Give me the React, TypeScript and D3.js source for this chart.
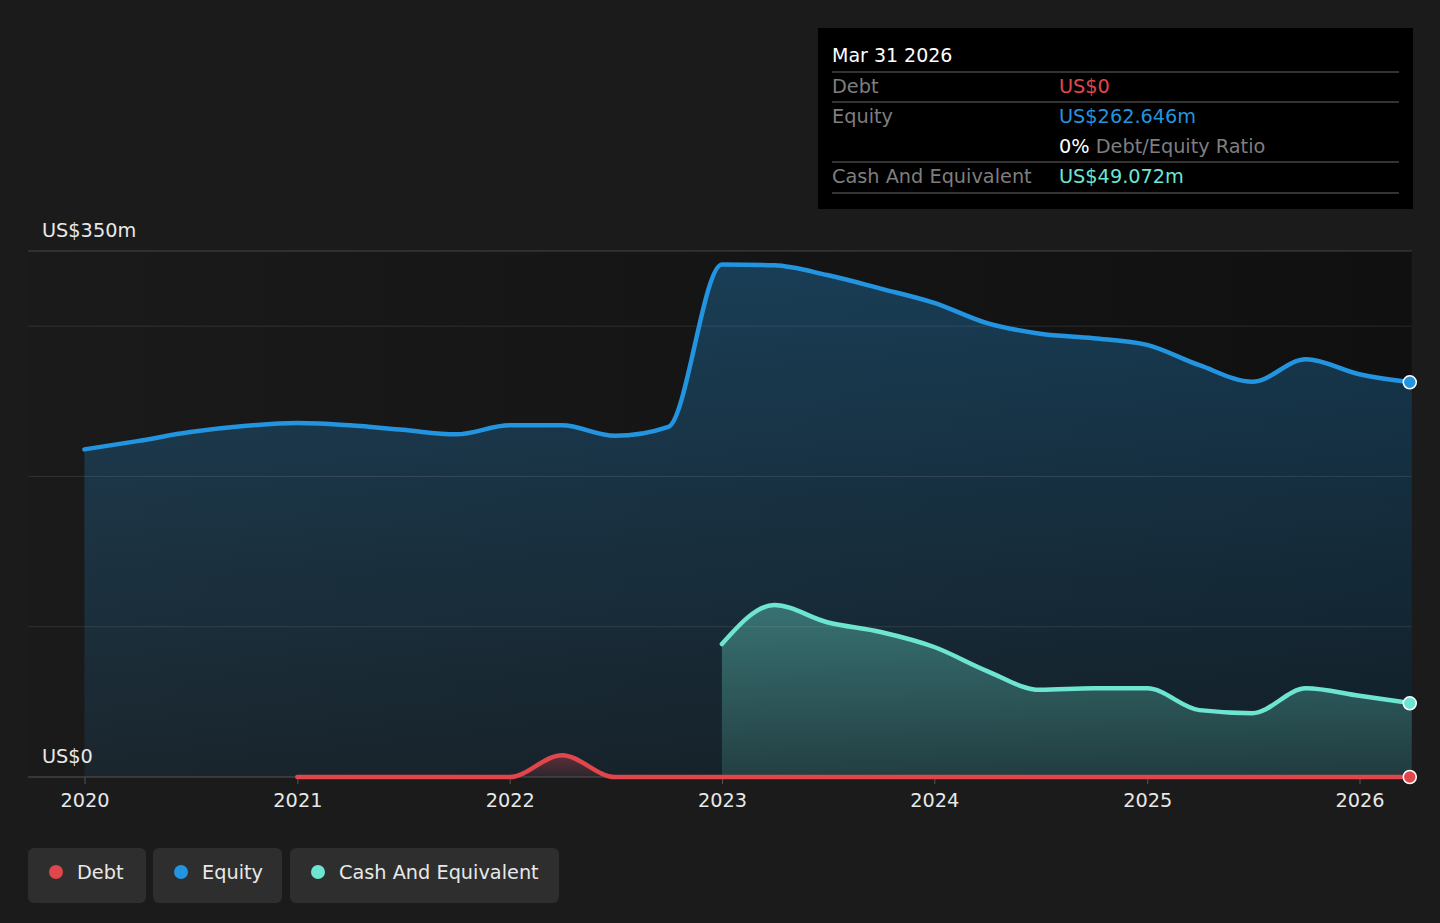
import { useEffect, useRef } from 'react';
import * as d3 from 'd3';

const quarterDates = [
  '2019-12-31', '2020-03-31', '2020-06-30', '2020-09-30', '2020-12-31',
  '2021-03-31', '2021-06-30', '2021-09-30', '2021-12-31', '2022-03-31',
  '2022-06-30', '2022-09-30', '2022-12-31', '2023-03-31', '2023-06-30',
  '2023-09-30', '2023-12-31', '2024-03-31', '2024-06-30', '2024-09-30',
  '2024-12-31', '2025-03-31', '2025-06-30', '2025-09-30', '2025-12-31',
  '2026-03-31',
];

// values in US$m
const equityValues = [
  218, 223.5, 229.5, 233.5, 235.5, 234, 231, 228, 234, 234, 227, 233, 341,
  340.5, 334, 325, 315.5, 302, 295, 292, 287.5, 274, 263, 278, 268, 262.646,
];
// debt starts 2020-12-31
const debtValues = [
  0, 0, 0, 0, 0, 14.5, 0, 0, 0, 0, 0, 0, 0, 0, 0, 0, 0, 0, 0, 0, 0, 0,
];
// cash starts 2022-12-31
const cashValues = [
  88.5, 114.5, 103, 96.5, 86.5, 70.5, 58, 59, 59, 44.5, 42.5, 59, 54, 49.072,
];

const yearTicks = [2020, 2021, 2022, 2023, 2024, 2025, 2026];
const gridValues = [100, 200, 300, 350];

const seriesColors = { debt: '#e0464c', equity: '#2394df', cash: '#6ee5d0' };
const font = '"DejaVu Sans", Verdana, sans-serif';
const fs = 19.3;

type Pt = { date: Date; value: number };

const App = () => {
  const svgRef = useRef(null);

  useEffect(() => {
    document.body.style.margin = '0';
    document.body.style.background = '#1b1b1b';
    if (!svgRef.current) return;

    const width = 1440;
    const height = 923;
    const svg = d3.select(svgRef.current).attr('width', width).attr('height', height);
    svg.selectAll('*').remove();

    const parse = d3.utcParse('%Y-%m-%d');
    const dates = quarterDates.map((d) => parse(d)!);

    const x = d3
      .scaleUtc()
      .domain([new Date(Date.UTC(2020, 0, 1)), new Date(Date.UTC(2026, 0, 1))])
      .range([85, 1360]);
    const y = d3.scaleLinear().domain([0, 350]).range([777, 251]);

    const equity: Pt[] = equityValues.map((v, i) => ({ date: dates[i], value: v }));
    const debt: Pt[] = debtValues.map((v, i) => ({ date: dates[i + 4], value: v }));
    const cash: Pt[] = cashValues.map((v, i) => ({ date: dates[i + 12], value: v }));

    const left = 28;
    const right = x(dates[dates.length - 1]);

    const defs = svg.append('defs');
    const bg = defs.append('linearGradient').attr('id', 'plotbg').attr('x1', 0).attr('x2', 1).attr('y1', 0).attr('y2', 0);
    bg.append('stop').attr('offset', 0).attr('stop-color', '#1a1a1a');
    bg.append('stop').attr('offset', 1).attr('stop-color', '#101010');

    const makeFill = (id: string, color: string, top: number, bottom: number) => {
      const g = defs.append('linearGradient').attr('id', id).attr('x1', 0).attr('x2', 0).attr('y1', 0).attr('y2', 1);
      g.append('stop').attr('offset', 0).attr('stop-color', color).attr('stop-opacity', top);
      g.append('stop').attr('offset', 1).attr('stop-color', color).attr('stop-opacity', bottom);
    };
    makeFill('eqfill', seriesColors.equity, 0.32, 0.1);
    makeFill('cashfill', seriesColors.cash, 0.38, 0.15);
    makeFill('debtfill', seriesColors.debt, 0.35, 0.1);

    svg.append('rect').attr('width', width).attr('height', height).attr('fill', '#1b1b1b');
    svg
      .append('rect')
      .attr('x', left)
      .attr('y', y(350))
      .attr('width', right - left)
      .attr('height', y(0) - y(350))
      .attr('fill', 'url(#plotbg)');

    const area = d3
      .area<Pt>()
      .x((d) => x(d.date))
      .y0(y(0))
      .y1((d) => y(d.value))
      .curve(d3.curveMonotoneX);
    const line = d3
      .line<Pt>()
      .x((d) => x(d.date))
      .y((d) => y(d.value))
      .curve(d3.curveMonotoneX);

    svg.append('path').datum(equity).attr('d', area).attr('fill', 'url(#eqfill)');
    svg.append('path').datum(cash).attr('d', area).attr('fill', 'url(#cashfill)');
    svg.append('path').datum(debt).attr('d', area).attr('fill', 'url(#debtfill)');

    // grid
    svg
      .append('g')
      .selectAll('line')
      .data(gridValues)
      .join('line')
      .attr('x1', left)
      .attr('x2', right)
      .attr('y1', (d) => y(d))
      .attr('y2', (d) => y(d))
      .attr('stroke', '#ffffff')
      .attr('stroke-opacity', (d) => (d === 350 ? 0.2 : 0.1));

    // x axis
    svg.append('line').attr('x1', left).attr('x2', right).attr('y1', y(0)).attr('y2', y(0)).attr('stroke', '#555');
    const xt = svg.append('g');
    xt.selectAll('line')
      .data(yearTicks)
      .join('line')
      .attr('x1', (d) => x(new Date(Date.UTC(d, 0, 1))))
      .attr('x2', (d) => x(new Date(Date.UTC(d, 0, 1))))
      .attr('y1', y(0))
      .attr('y2', y(0) + 7)
      .attr('stroke', '#555');
    xt.selectAll('text')
      .data(yearTicks)
      .join('text')
      .attr('x', (d) => x(new Date(Date.UTC(d, 0, 1))))
      .attr('y', 807)
      .attr('text-anchor', 'middle')
      .attr('fill', '#e8e8e8')
      .attr('font-family', font)
      .attr('font-size', fs)
      .text((d) => d);

    // y labels
    svg.append('text').attr('x', 42).attr('y', 237).attr('fill', '#e8e8e8').attr('font-family', font).attr('font-size', fs).text('US$350m');
    svg.append('text').attr('x', 42).attr('y', 763).attr('fill', '#e8e8e8').attr('font-family', font).attr('font-size', fs).text('US$0');

    // lines
    const drawLine = (data: Pt[], color: string) =>
      svg
        .append('path')
        .datum(data)
        .attr('d', line)
        .attr('fill', 'none')
        .attr('stroke', color)
        .attr('stroke-width', 4.5)
        .attr('stroke-linecap', 'round');
    drawLine(equity, seriesColors.equity);
    drawLine(cash, seriesColors.cash);
    drawLine(debt, seriesColors.debt);

    // end markers
    [
      { d: equity, c: seriesColors.equity },
      { d: cash, c: seriesColors.cash },
      { d: debt, c: seriesColors.debt },
    ].forEach(({ d, c }) => {
      const last = d[d.length - 1];
      svg
        .append('circle')
        .attr('cx', x(last.date) - 2)
        .attr('cy', y(last.value))
        .attr('r', 6.5)
        .attr('fill', c)
        .attr('stroke', '#ffffff')
        .attr('stroke-width', 1.5);
    });

    // tooltip
    const tip = svg.append('g');
    tip.append('rect').attr('x', 818).attr('y', 28).attr('width', 595).attr('height', 181).attr('fill', '#000');
    tip.append('text').attr('x', 832).attr('y', 62).attr('fill', '#ffffff').attr('font-family', font).attr('font-size', 19).text('Mar 31 2026');
    [72, 102, 162, 193].forEach((ly) =>
      tip.append('line').attr('x1', 832).attr('x2', 1399).attr('y1', ly).attr('y2', ly).attr('stroke', '#444').attr('stroke-width', 1.5)
    );
    const rows = [
      { label: 'Debt', value: 'US$0', color: seriesColors.debt, yy: 93 },
      { label: 'Equity', value: 'US$262.646m', color: seriesColors.equity, yy: 123 },
      { label: 'Cash And Equivalent', value: 'US$49.072m', color: seriesColors.cash, yy: 183 },
    ];
    rows.forEach((r) => {
      tip.append('text').attr('x', 832).attr('y', r.yy).attr('fill', '#7e7e7e').attr('font-family', font).attr('font-size', fs).text(r.label);
      tip.append('text').attr('x', 1059).attr('y', r.yy).attr('fill', r.color).attr('font-family', font).attr('font-size', fs).text(r.value);
    });
    const ratio = tip.append('text').attr('x', 1059).attr('y', 153).attr('font-family', font).attr('font-size', fs);
    ratio.append('tspan').attr('fill', '#ffffff').text('0%');
    ratio.append('tspan').attr('fill', '#7e7e7e').text(' Debt/Equity Ratio');

    // legend
    const legendItems = [
      { label: 'Debt', color: seriesColors.debt, x0: 28, w: 118 },
      { label: 'Equity', color: seriesColors.equity, x0: 153, w: 129 },
      { label: 'Cash And Equivalent', color: seriesColors.cash, x0: 290, w: 269 },
    ];
    const lg = svg.append('g');
    legendItems.forEach((it) => {
      lg.append('rect').attr('x', it.x0).attr('y', 848).attr('width', it.w).attr('height', 55).attr('rx', 6).attr('fill', '#2e2e2e');
      lg.append('circle').attr('cx', it.x0 + 28).attr('cy', 872).attr('r', 7).attr('fill', it.color);
      lg.append('text').attr('x', it.x0 + 49).attr('y', 879).attr('fill', '#e8e8e8').attr('font-family', font).attr('font-size', fs).text(it.label);
    });
  }, []);

  return <svg ref={svgRef} style={{ display: 'block' }}></svg>;
};

export default App;
